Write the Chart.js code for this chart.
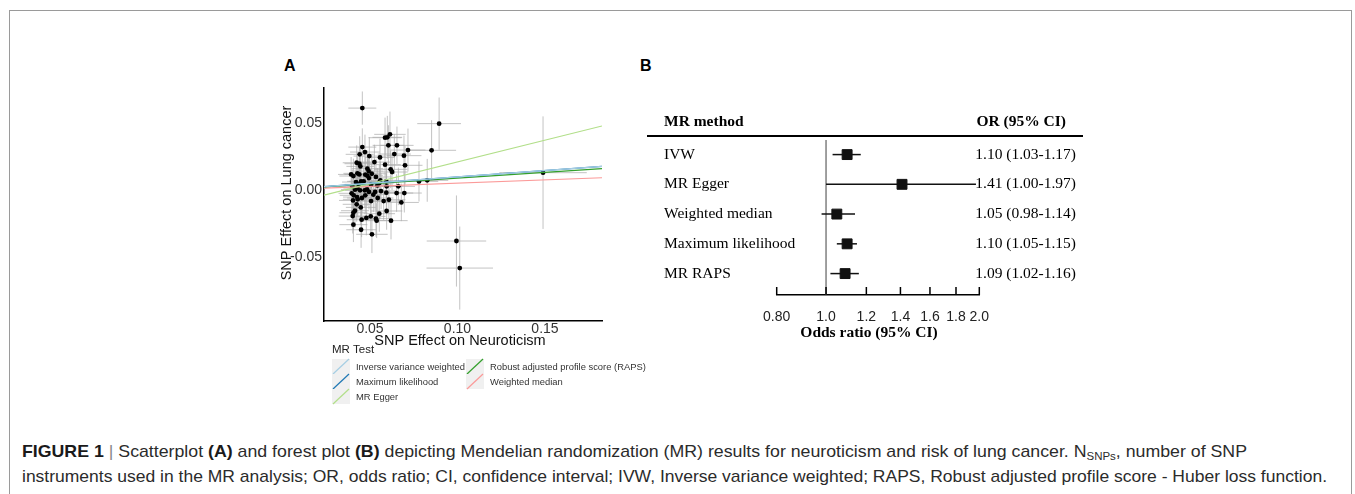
<!DOCTYPE html>
<html>
<head>
<meta charset="utf-8">
<script src="https://cdn.jsdelivr.net/npm/chart.js@4.4.1/dist/chart.umd.min.js"></script>
<style>
  html, body { margin: 0; padding: 0; background: #fff; }
  body { width: 1355px; height: 494px; position: relative; overflow: hidden; font-family: Arial, "Liberation Sans", sans-serif; }
  #frame { position: absolute; left: 9px; top: 10px; width: 1343px; height: 600px; border: 1px solid #9a9a9a; border-bottom: none; box-sizing: border-box; }
  .panel { position: absolute; font: bold 16px Arial, "Liberation Sans", sans-serif; color: #000; line-height: 16px; }
  #scatterWrap { position: absolute; left: 270px; top: 55px; width: 400px; height: 360px; }
  #forestWrap { position: absolute; left: 640px; top: 95px; width: 460px; height: 250px; }
  .cap { position: absolute; left: 22px; white-space: nowrap; font-size: 17px; line-height: 22px;
         font-family: "Liberation Sans Narrow", "Arial Narrow", "Liberation Sans", sans-serif;
         color: #2b2b2b; transform-origin: left center; }
  .cap b { font-weight: bold; color: #1a1a1a; }
  .cap sub { font-size: 11px; vertical-align: -3px; }
  .bar { color: #888; }
</style>
</head>
<body>
<div id="frame"></div>
<div class="panel" style="left:284px; top:58px;">A</div>
<div class="panel" style="left:640px; top:58px;">B</div>
<div id="scatterWrap"><canvas id="scatterChart" width="400" height="360"></canvas></div>
<div id="forestWrap"><canvas id="forestChart" width="460" height="250"></canvas></div>
<div class="cap" id="cap1" style="top:441px"><b>FIGURE 1</b> <span class="bar">|</span> Scatterplot <b>(A)</b> and forest plot <b>(B)</b> depicting Mendelian randomization (MR) results for neuroticism and risk of lung cancer. N<sub>SNPs</sub>, number of SNP</div>
<div class="cap" id="cap2" style="top:466px">instruments used in the MR analysis; OR, odds ratio; CI, confidence interval; IVW, Inverse variance weighted; RAPS, Robust adjusted profile score - Huber loss function.</div>

<script>
// ---- panel A: SNP effects ----
const snpX = [0.0456, 0.0895, 0.0852, 0.1489, 0.0780, 0.0827, 0.0994, 0.1013,
  0.0614, 0.0599, 0.0586, 0.0456, 0.0605, 0.0654, 0.0717, 0.0471, 0.0441, 0.0496,
  0.0639, 0.0694, 0.0557, 0.0525, 0.0586, 0.0700, 0.0424, 0.0439, 0.0445, 0.0485,
  0.0492, 0.0618, 0.0626, 0.0392, 0.0428, 0.0405, 0.0439, 0.0473, 0.0485, 0.0559,
  0.0553, 0.0449, 0.0464, 0.0593, 0.0662, 0.0595, 0.0542, 0.0506, 0.0399, 0.0414,
  0.0428, 0.0443, 0.0470, 0.0483, 0.0494, 0.0529, 0.0563, 0.0519, 0.0593, 0.0652,
  0.0696, 0.0395, 0.0407, 0.0426, 0.0403, 0.0430, 0.0454, 0.0473, 0.0544, 0.0578,
  0.0608, 0.0506, 0.0424, 0.0447, 0.0414, 0.0405, 0.0679, 0.0595, 0.0553, 0.0504,
  0.0479, 0.0534, 0.0538, 0.0401, 0.0452, 0.0405, 0.0449, 0.0511, 0.0620, 0.0510,
  0.0494, 0.0534, 0.0435, 0.0420];
const snpY = [0.0609, 0.0493, 0.0294, 0.0127, 0.0062, 0.0070, -0.0383, -0.0585,
  0.0413, 0.0391, 0.0388, 0.0318, 0.0331, 0.0331, 0.0296, 0.0281, 0.0264, 0.0251,
  0.0266, 0.0254, 0.0241, 0.0206, 0.0187, 0.0182, 0.0201, 0.0194, 0.0174, 0.0157,
  0.0139, 0.0152, 0.0132, 0.0114, 0.0122, 0.0102, 0.0114, 0.0112, 0.0104, 0.0070,
  0.0050, 0.0062, 0.0062, 0.0062, 0.0025, 0.0025, 0.0032, 0.0037, 0.0025, 0.0000,
  0.0012, -0.0005, -0.0005, 0.0002, -0.0017, -0.0017, -0.0010, -0.0037, -0.0022, -0.0025,
  -0.0025, -0.0027, -0.0042, -0.0055, -0.0080, -0.0072, -0.0062, -0.0042, -0.0062, -0.0085,
  -0.0075, -0.0085, -0.0109, -0.0132, -0.0157, -0.0172, -0.0095, -0.0159, -0.0179, -0.0199,
  -0.0211, -0.0216, -0.0231, -0.0197, -0.0224, -0.0261, -0.0299, -0.0333, -0.0231, 0.0119,
  0.0087, 0.0095, 0.0040, 0.0057];
const snpXse = [0.0080, 0.0125, 0.0140, 0.0250, 0.0110, 0.0120, 0.0170, 0.0190,
  0.0090, 0.0085, 0.0095, 0.0080, 0.0090, 0.0095, 0.0100, 0.0085, 0.0080, 0.0090,
  0.0095, 0.0100, 0.0085, 0.0090, 0.0090, 0.0100, 0.0080, 0.0085, 0.0080, 0.0090,
  0.0085, 0.0095, 0.0090, 0.0075, 0.0080, 0.0080, 0.0085, 0.0085, 0.0090, 0.0090,
  0.0085, 0.0080, 0.0085, 0.0090, 0.0095, 0.0090, 0.0085, 0.0085, 0.0080, 0.0080,
  0.0080, 0.0085, 0.0085, 0.0085, 0.0090, 0.0085, 0.0090, 0.0085, 0.0090, 0.0095,
  0.0100, 0.0075, 0.0080, 0.0080, 0.0080, 0.0085, 0.0085, 0.0085, 0.0090, 0.0090,
  0.0095, 0.0085, 0.0080, 0.0085, 0.0080, 0.0080, 0.0100, 0.0090, 0.0090, 0.0085,
  0.0085, 0.0090, 0.0090, 0.0080, 0.0085, 0.0080, 0.0085, 0.0090, 0.0095, 0.0085,
  0.0085, 0.0090, 0.0080, 0.0080];
const snpYse = [0.0124, 0.0195, 0.0225, 0.0420, 0.0150, 0.0160, 0.0340, 0.0310,
  0.0170, 0.0160, 0.0150, 0.0140, 0.0150, 0.0140, 0.0160, 0.0130, 0.0135, 0.0140,
  0.0150, 0.0150, 0.0140, 0.0130, 0.0140, 0.0145, 0.0130, 0.0125, 0.0130, 0.0135,
  0.0130, 0.0140, 0.0135, 0.0130, 0.0125, 0.0130, 0.0125, 0.0130, 0.0130, 0.0140,
  0.0135, 0.0130, 0.0125, 0.0140, 0.0140, 0.0135, 0.0130, 0.0130, 0.0125, 0.0130,
  0.0125, 0.0130, 0.0130, 0.0125, 0.0130, 0.0135, 0.0135, 0.0130, 0.0140, 0.0140,
  0.0145, 0.0130, 0.0125, 0.0130, 0.0130, 0.0130, 0.0125, 0.0130, 0.0135, 0.0140,
  0.0140, 0.0130, 0.0130, 0.0130, 0.0125, 0.0130, 0.0140, 0.0140, 0.0135, 0.0130,
  0.0130, 0.0135, 0.0130, 0.0130, 0.0130, 0.0130, 0.0135, 0.0140, 0.0140, 0.0130,
  0.0130, 0.0135, 0.0125, 0.0125];

// MR fit lines: slope and intercept for each method
const mrTests = ['Inverse variance weighted', 'Maximum likelihood', 'MR Egger', 'Robust adjusted profile score (RAPS)', 'Weighted median'];
const mrColors = ['#a6cee3', '#1f78b4', '#b2df8a', '#33a02c', '#fb9a99'];
const mrSlopes = [0.0953, 0.0953, 0.325, 0.0862, 0.0488];
const mrIntercepts = [0, 0, -0.0118, 0, 0];

const xRangeA = [0.0237, 0.1826];
const yRangeA = [-0.098, 0.0759];
const xTicksA = [0.05, 0.10, 0.15];
const yTicksA = [-0.05, 0.00, 0.05];

// ---- panel B: forest plot ----
const methods = ['IVW', 'MR Egger', 'Weighted median', 'Maximum likelihood', 'MR RAPS'];
const orEst = [1.10, 1.41, 1.05, 1.10, 1.09];
const orLow = [1.03, 1.00, 0.98, 1.05, 1.02];
const orHigh = [1.17, 1.97, 1.14, 1.15, 1.16];
const orTicks = [0.80, 1.0, 1.2, 1.4, 1.6, 1.8, 2.0];
const orTickLabels = ['0.80', '1.0', '1.2', '1.4', '1.6', '1.8', '2.0'];

const sans = 'Arial, "Liberation Sans", sans-serif';
const serif = '"Liberation Serif", "Times New Roman", serif';

// error bars behind the points
const errorBars = {
  id: 'errorBars',
  beforeDatasetsDraw(chart) {
    const { ctx, scales: { x, y } } = chart;
    ctx.save();
    ctx.strokeStyle = 'rgba(170,170,170,0.7)';
    ctx.lineWidth = 1;
    snpX.forEach((v, i) => {
      const px = x.getPixelForValue(v);
      const py = y.getPixelForValue(snpY[i]);
      ctx.beginPath();
      ctx.moveTo(x.getPixelForValue(v - snpXse[i]), py);
      ctx.lineTo(x.getPixelForValue(v + snpXse[i]), py);
      ctx.moveTo(px, y.getPixelForValue(snpY[i] - snpYse[i]));
      ctx.lineTo(px, y.getPixelForValue(snpY[i] + snpYse[i]));
      ctx.stroke();
    });
    ctx.restore();
  }
};

// axis titles and the MR Test legend
const scatterDecor = {
  id: 'scatterDecor',
  afterDraw(chart) {
    const ctx = chart.ctx;
    ctx.save();
    ctx.fillStyle = '#111';
    ctx.font = '14.5px ' + sans;
    ctx.textAlign = 'center';
    ctx.textBaseline = 'middle';
    ctx.fillText('SNP Effect on Neuroticism', 190, 286);
    ctx.save();
    ctx.translate(17, 138);
    ctx.rotate(-Math.PI / 2);
    ctx.fillText('SNP Effect on Lung cancer', 0, 0);
    ctx.restore();

    // legend
    ctx.textAlign = 'left';
    ctx.font = '11.5px ' + sans;
    ctx.fillStyle = '#222';
    ctx.fillText('MR Test', 62, 295);
    const cols = [62, 196];
    const rowsTop = [304, 319, 334];
    ctx.font = '9.4px ' + sans;
    mrTests.forEach((name, i) => {
      const c = i < 3 ? 0 : 1;
      const r = i < 3 ? i : i - 3;
      const kx = cols[c], ky = rowsTop[r];
      ctx.fillStyle = '#f0f0f0';
      ctx.fillRect(kx, ky, 18, 15);
      ctx.strokeStyle = mrColors[i];
      ctx.lineWidth = 1.2;
      ctx.beginPath();
      ctx.moveTo(kx + 1, ky + 15);
      ctx.lineTo(kx + 17, ky);
      ctx.stroke();
      ctx.save();
      if (c === 0) {
        ctx.beginPath();
        ctx.rect(kx + 20, ky - 5, cols[1] - kx - 21, 25);
        ctx.clip();
      }
      ctx.fillStyle = '#333';
      ctx.fillText(name, kx + 24, ky + 8);
      ctx.restore();
    });
    ctx.restore();
  }
};

const fitLines = mrTests.map((name, i) => ({
  type: 'line',
  label: name,
  data: xRangeA.map(v => ({ x: v, y: mrIntercepts[i] + mrSlopes[i] * v })),
  borderColor: mrColors[i],
  borderWidth: 1.2,
  pointRadius: 0,
  fill: false,
  order: 0
}));

new Chart(document.getElementById('scatterChart'), {
  type: 'scatter',
  data: {
    datasets: [{
      label: 'SNPs',
      data: snpX.map((v, i) => ({ x: v, y: snpY[i] })),
      backgroundColor: '#000',
      borderColor: '#000',
      pointRadius: 2.4,
      pointBorderWidth: 0,
      order: 1
    }, ...fitLines]
  },
  options: {
    responsive: false,
    animation: false,
    layout: { padding: { left: 0, top: 33, right: 68, bottom: 64 } },
    plugins: { legend: { display: false }, tooltip: { enabled: false } },
    scales: {
      x: {
        type: 'linear', min: xRangeA[0], max: xRangeA[1],
        afterBuildTicks: s => { s.ticks = xTicksA.map(v => ({ value: v })); },
        afterFit: s => { s.height = 30; },
        ticks: { callback: v => v.toFixed(2), font: { size: 14, family: sans }, color: '#333', padding: 0, maxRotation: 0 },
        grid: { display: false, drawTicks: false },
        border: { color: '#000', width: 1.5 }
      },
      y: {
        type: 'linear', min: yRangeA[0], max: yRangeA[1],
        afterBuildTicks: s => { s.ticks = yTicksA.map(v => ({ value: v })); },
        afterFit: s => { s.width = 54; },
        ticks: { callback: v => v.toFixed(2), font: { size: 14, family: sans }, color: '#333', padding: 2 },
        grid: { display: false, drawTicks: false },
        border: { color: '#000', width: 1.5 }
      }
    }
  },
  plugins: [errorBars, scatterDecor]
});

// forest plot: whiskers, reference line, table text
const forestDecor = {
  id: 'forestDecor',
  beforeDatasetsDraw(chart) {
    const { ctx, chartArea, scales: { x, y } } = chart;
    ctx.save();
    ctx.strokeStyle = '#808080';
    ctx.lineWidth = 1.5;
    const x1 = x.getPixelForValue(1);
    ctx.beginPath();
    ctx.moveTo(x1, chartArea.top);
    ctx.lineTo(x1, chartArea.bottom);
    ctx.stroke();
    ctx.strokeStyle = '#111';
    ctx.lineWidth = 1.5;
    methods.forEach((m, i) => {
      const py = y.getPixelForValue(i);
      ctx.beginPath();
      ctx.moveTo(x.getPixelForValue(orLow[i]), py);
      ctx.lineTo(x.getPixelForValue(orHigh[i]), py);
      ctx.stroke();
    });
    ctx.restore();
  },
  afterDraw(chart) {
    const { ctx, chartArea, scales: { x, y } } = chart;
    ctx.save();
    // axis ticks pointing up
    ctx.strokeStyle = '#000';
    ctx.lineWidth = 1.5;
    orTicks.forEach(v => {
      const px = x.getPixelForValue(v);
      ctx.beginPath();
      ctx.moveTo(px, chartArea.bottom);
      ctx.lineTo(px, chartArea.bottom - 8);
      ctx.stroke();
    });
    // header
    ctx.fillStyle = '#000';
    ctx.textBaseline = 'middle';
    ctx.font = 'bold 15.5px ' + serif;
    ctx.textAlign = 'left';
    ctx.fillText('MR method', 24, 27);
    ctx.textAlign = 'right';
    ctx.fillText('OR (95% CI)', 426, 27);
    ctx.lineWidth = 2;
    ctx.beginPath();
    ctx.moveTo(7, 41);
    ctx.lineTo(443, 41);
    ctx.stroke();
    // rows
    ctx.font = '15.5px ' + serif;
    methods.forEach((m, i) => {
      const py = y.getPixelForValue(i);
      ctx.textAlign = 'left';
      ctx.fillText(m, 24, py);
      ctx.textAlign = 'right';
      ctx.fillText(orEst[i].toFixed(2) + ' (' + orLow[i].toFixed(2) + '-' + orHigh[i].toFixed(2) + ')', 436, py);
    });
    ctx.textAlign = 'center';
    ctx.font = 'bold 15.5px ' + serif;
    ctx.fillText('Odds ratio (95% CI)', 229, 238);
    ctx.restore();
  }
};

new Chart(document.getElementById('forestChart'), {
  type: 'scatter',
  data: {
    datasets: [{
      label: 'OR',
      data: methods.map((m, i) => ({ x: orEst[i], y: i })),
      pointStyle: 'rect',
      pointRadius: 7,
      pointBorderWidth: 1,
      backgroundColor: '#111',
      borderColor: '#111'
    }]
  },
  options: {
    responsive: false,
    animation: false,
    layout: { padding: { left: 136.7, right: 120.7, top: 45, bottom: 20 } },
    plugins: { legend: { display: false }, tooltip: { enabled: false } },
    scales: {
      x: {
        type: 'logarithmic', min: orTicks[0], max: orTicks[orTicks.length - 1],
        afterBuildTicks: s => { s.ticks = orTicks.map(v => ({ value: v })); },
        afterFit: s => { s.height = 30; },
        ticks: { callback: (v, i) => orTickLabels[i], font: { size: 14, family: sans }, color: '#222', padding: 14, maxRotation: 0, autoSkip: false },
        grid: { display: false, drawTicks: false },
        border: { color: '#000', width: 1.5 }
      },
      y: {
        type: 'linear', reverse: true, min: -0.49, max: 4.72, display: false
      }
    }
  },
  plugins: [forestDecor]
});

// fit the caption lines to their widths in the figure
[['cap1', 1225], ['cap2', 1305]].forEach(([id, target]) => {
  const el = document.getElementById(id);
  const w = el.getBoundingClientRect().width;
  el.style.transform = 'scaleX(' + (target / w) + ')';
});
</script>
</body>
</html>
